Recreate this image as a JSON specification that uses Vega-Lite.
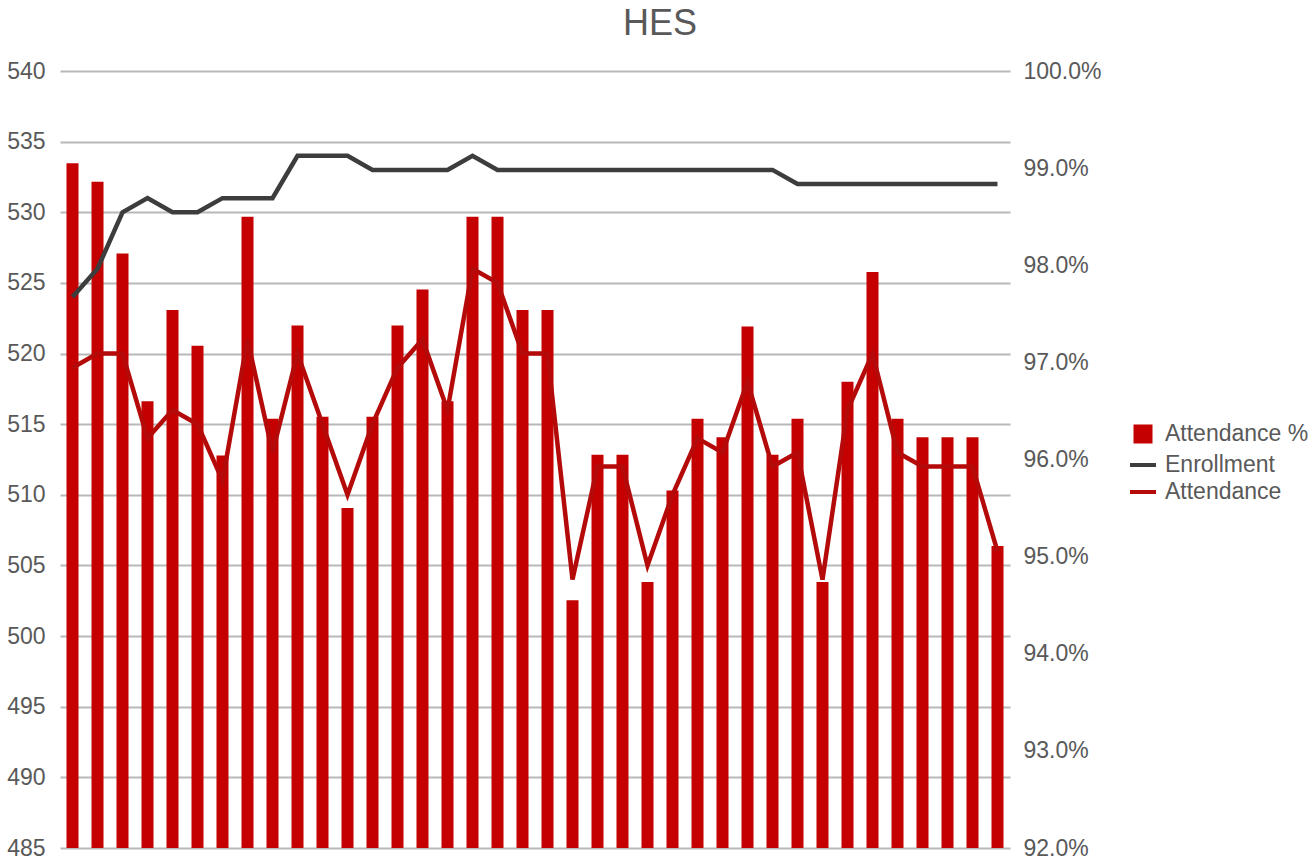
{
  "$schema": "https://vega.github.io/schema/vega-lite/v6.json",
  "autosize": "none",
  "width": 950,
  "height": 777,
  "padding": {"left": 60, "top": 71, "right": 306, "bottom": 12},
  "background": "white",
  "title": {"text": "HES", "fontSize": 36, "color": "#595959", "font": "Liberation Sans", "fontWeight": "normal", "dx": 125, "offset": 17},
  "config": {
    "view": {"stroke": null},
    "font": "Liberation Sans",
    "axis": {"labelFont": "Liberation Sans", "labelFontSize": 23, "labelColor": "#595959", "domain": false, "ticks": false, "title": null}
  },
  "data": {"values": [
    {"i": 1, "pct": 0.9905, "Enrollment": 524, "Attendance": 519},
    {"i": 2, "pct": 0.9886, "Enrollment": 526, "Attendance": 520},
    {"i": 3, "pct": 0.9812, "Enrollment": 530, "Attendance": 520},
    {"i": 4, "pct": 0.9660, "Enrollment": 531, "Attendance": 514},
    {"i": 5, "pct": 0.9754, "Enrollment": 530, "Attendance": 516},
    {"i": 6, "pct": 0.9717, "Enrollment": 530, "Attendance": 515},
    {"i": 7, "pct": 0.9604, "Enrollment": 531, "Attendance": 511},
    {"i": 8, "pct": 0.9850, "Enrollment": 531, "Attendance": 521},
    {"i": 9, "pct": 0.9642, "Enrollment": 531, "Attendance": 513},
    {"i": 10, "pct": 0.9738, "Enrollment": 534, "Attendance": 520},
    {"i": 11, "pct": 0.9644, "Enrollment": 534, "Attendance": 515},
    {"i": 12, "pct": 0.9550, "Enrollment": 534, "Attendance": 510},
    {"i": 13, "pct": 0.9644, "Enrollment": 533, "Attendance": 515},
    {"i": 14, "pct": 0.9738, "Enrollment": 533, "Attendance": 519},
    {"i": 15, "pct": 0.9775, "Enrollment": 533, "Attendance": 521},
    {"i": 16, "pct": 0.9660, "Enrollment": 533, "Attendance": 516},
    {"i": 17, "pct": 0.9850, "Enrollment": 534, "Attendance": 526},
    {"i": 18, "pct": 0.9850, "Enrollment": 533, "Attendance": 525},
    {"i": 19, "pct": 0.9754, "Enrollment": 533, "Attendance": 520},
    {"i": 20, "pct": 0.9754, "Enrollment": 533, "Attendance": 520},
    {"i": 21, "pct": 0.9455, "Enrollment": 533, "Attendance": 504},
    {"i": 22, "pct": 0.9605, "Enrollment": 533, "Attendance": 512},
    {"i": 23, "pct": 0.9605, "Enrollment": 533, "Attendance": 512},
    {"i": 24, "pct": 0.9474, "Enrollment": 533, "Attendance": 505},
    {"i": 25, "pct": 0.9568, "Enrollment": 533, "Attendance": 510},
    {"i": 26, "pct": 0.9642, "Enrollment": 533, "Attendance": 514},
    {"i": 27, "pct": 0.9623, "Enrollment": 533, "Attendance": 513},
    {"i": 28, "pct": 0.9737, "Enrollment": 533, "Attendance": 518},
    {"i": 29, "pct": 0.9605, "Enrollment": 533, "Attendance": 512},
    {"i": 30, "pct": 0.9642, "Enrollment": 532, "Attendance": 513},
    {"i": 31, "pct": 0.9474, "Enrollment": 532, "Attendance": 504},
    {"i": 32, "pct": 0.9680, "Enrollment": 532, "Attendance": 516},
    {"i": 33, "pct": 0.9793, "Enrollment": 532, "Attendance": 520},
    {"i": 34, "pct": 0.9642, "Enrollment": 532, "Attendance": 513},
    {"i": 35, "pct": 0.9623, "Enrollment": 532, "Attendance": 512},
    {"i": 36, "pct": 0.9623, "Enrollment": 532, "Attendance": 512},
    {"i": 37, "pct": 0.9623, "Enrollment": 532, "Attendance": 512},
    {"i": 38, "pct": 0.9511, "Enrollment": 532, "Attendance": 506}
  ]},
  "encoding": {
    "x": {"field": "i", "type": "ordinal", "axis": null, "scale": {"paddingInner": 0.52, "paddingOuter": 0.26}}
  },
  "layer": [
    {
      "mark": {"type": "bar"},
      "encoding": {
        "y": {"field": "pct", "type": "quantitative", "scale": {"domain": [0.92, 1.0], "zero": false, "nice": false},
              "axis": {"orient": "right", "values": [0.92, 0.93, 0.94, 0.95, 0.96, 0.97, 0.98, 0.99, 1.0], "format": ".1%", "grid": false, "labelPadding": 13}},
        "y2": {"datum": 0.92},
        "color": {"datum": "Attendance %", "type": "nominal", "title": null,
          "scale": {"domain": ["Attendance %", "Enrollment", "Attendance"], "range": ["#c40000", "#3d3d3d", "#b50a0a"]},
          "legend": {
            "title": null, "orient": "none", "legendX": 1068, "legendY": 348, "padding": 0,
            "labelFont": "Liberation Sans", "labelFontSize": 23, "labelColor": "#595959", "labelOffset": 7,
            "symbolSize": 676, "symbolType": "stroke", "rowPadding": -3,
            "encode": {"symbols": {"update": {
              "shape": {"signal": "datum.value == 'Attendance %' ? 'square' : 'stroke'"},
              "size": {"signal": "datum.value == 'Attendance %' ? 225 : 676"},
              "fill": {"signal": "datum.value == 'Attendance %' ? '#c40000' : 'transparent'"},
              "stroke": {"signal": "datum.value == 'Attendance %' ? 'transparent' : (datum.value == 'Enrollment' ? '#3d3d3d' : '#a81212')"},
              "strokeWidth": {"value": 4},
              "opacity": {"value": 1}
            }}}
          }}
      }
    },
    {
      "transform": [{"fold": ["Enrollment", "Attendance"], "as": ["series", "val"]}],
      "mark": {"type": "line", "strokeWidth": 4.5, "strokeJoin": "miter"},
      "encoding": {
        "y": {"field": "val", "type": "quantitative", "scale": {"domain": [485, 540], "zero": false, "nice": false},
              "axis": {"orient": "left", "values": [485, 490, 495, 500, 505, 510, 515, 520, 525, 530, 535, 540], "grid": true, "gridColor": "#b8b8b8", "gridWidth": 2, "labelPadding": 15}},
        "color": {"field": "series", "type": "nominal", "title": null, "legend": {"title": null}},
        "detail": {"field": "series"}
      }
    }
  ],
  "resolve": {"scale": {"y": "independent"}}
}
